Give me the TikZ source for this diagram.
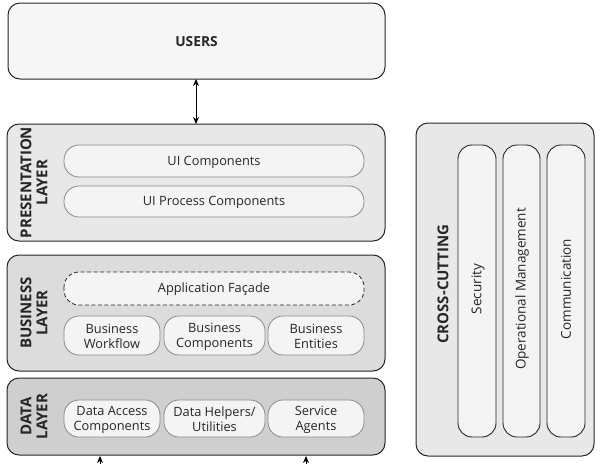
\documentclass[tikz,border=0pt]{standalone}
\usepackage{fontspec}
\setmainfont{Open Sans}
\usetikzlibrary{arrows.meta}
\definecolor{userfill}{HTML}{F6F6F6}
\definecolor{pfill}{HTML}{E8E8E8}
\definecolor{bfill}{HTML}{DCDCDC}
\definecolor{dfill}{HTML}{CFCFCF}
\definecolor{pillfill}{HTML}{F4F4F4}
\definecolor{pilledge}{HTML}{8A8A8A}
\tikzset{
  layerbox/.style={draw=black!85, line width=1pt, rounded corners=12pt},
  pill/.style={draw=pilledge, line width=0.8pt, fill=pillfill, rounded corners=15pt},
  vpill/.style={draw=black!85, line width=0.9pt, fill=pillfill, rounded corners=14pt},
  txt/.style={font=\fontsize{12.8}{15}\selectfont, align=center, text=black!85},
  vtxt/.style={font=\fontsize{13.5}{15}\selectfont, rotate=90, text=black!85},
  lbl/.style={font=\fontsize{15}{16}\selectfont\bfseries, align=center, rotate=90, text=black!85},
  arr/.style={{Stealth[length=7pt,width=6pt]}-{Stealth[length=7pt,width=6pt]}, line width=0.9pt},
  uarr/.style={-{Stealth[length=7pt,width=6pt]}, line width=0.9pt}
}
\begin{document}
\begin{tikzpicture}[x=1pt,y=-1pt]
\useasboundingbox (0,0) rectangle (602,463);
% users
\draw[layerbox, fill=userfill] (8,3) rectangle (385,79);
\node[txt, font=\fontsize{13.8}{15}\selectfont\bfseries] (users) at (196.5,41.5) {USERS};
\coordinate (usersb) at (196,79);
% presentation
\draw[layerbox, fill=pfill] (7,124) rectangle (385,241);
\coordinate (prest) at (196,124);
\node[lbl] (plbl) at (34,182.5) {PRESENTATION\\LAYER};
\draw[pill] (64,145) rectangle (364,177);
\node[txt] (uic) at (214,162) {UI Components};
\draw[pill] (64,186) rectangle (364,217);
\node[txt] (uipc) at (214,202.5) {UI Process Components};
\draw[arr] (usersb) -- (prest);
% business
\draw[layerbox, fill=bfill] (7,255) rectangle (385,371);
\node[lbl] (blbl) at (34,313) {BUSINESS\\LAYER};
\draw[pill, dashed, draw=black!85, dash pattern=on 4pt off 2.5pt, fill=pillfill] (64,272) rectangle (364,305);
\node[txt] (af) at (214,289.5) {Application Façade};
\draw[pill] (64,316) rectangle (160,355);
\node[txt] (bw) at (112,336.5) {Business\\Workflow};
\draw[pill] (164,316) rectangle (265,355);
\node[txt] (bc) at (214.5,336.5) {Business\\Components};
\draw[pill] (268,316) rectangle (364,355);
\node[txt] (be) at (316,336.5) {Business\\Entities};
% data
\draw[layerbox, fill=dfill] (7,378) rectangle (385,455);
\node[lbl] (dlbl) at (34,416.5) {DATA\\LAYER};
\draw[pill] (64,400) rectangle (160,437);
\node[txt] (dac) at (112,419.5) {Data Access\\Components};
\draw[pill] (164,400) rectangle (265,437);
\node[txt] (dhu) at (214.5,419.5) {Data Helpers/\\Utilities};
\draw[pill] (268,400) rectangle (364,437);
\node[txt] (sa) at (316,419.5) {Service\\Agents};
\coordinate (a1s) at (100,470);
\coordinate (a1e) at (100,456);
\coordinate (a2s) at (306,470);
\coordinate (a2e) at (306,456);
\draw[uarr] (a1s) -- (a1e);
\draw[uarr] (a2s) -- (a2e);
% cross-cutting
\draw[layerbox, fill=pfill] (416,123) rectangle (594,456);
\node[lbl] (cc) at (443,284) {CROSS-CUTTING};
\draw[vpill] (458,145) rectangle (496,437);
\node[vtxt] (sec) at (478,289) {Security};
\draw[vpill] (503,145) rectangle (540,437);
\node[vtxt] (om) at (522,289) {Operational Management};
\draw[vpill] (547,145) rectangle (585,437);
\node[vtxt] (com) at (566,289) {Communication};
\end{tikzpicture}
\end{document}
